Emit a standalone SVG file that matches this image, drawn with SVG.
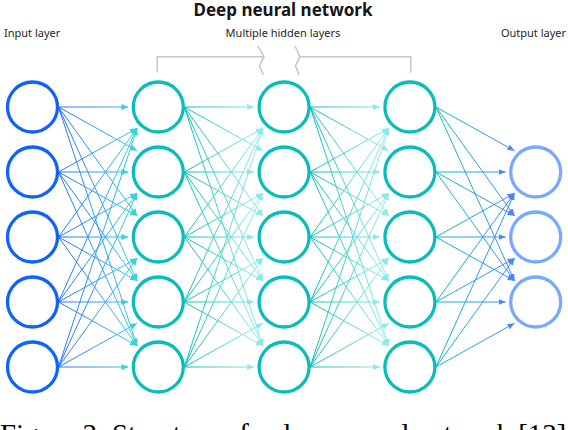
<svg xmlns="http://www.w3.org/2000/svg" width="568" height="430" viewBox="0 0 568 430">
<style>
.lbl{font-family:"Noto Sans","DejaVu Sans",sans-serif;font-size:11px;fill:#262626}
.title{font-family:"Noto Sans","DejaVu Sans",sans-serif;font-size:17px;font-weight:bold;fill:#161616}
.cap{font-family:"Liberation Serif","Times New Roman",serif;font-size:28.8px;fill:#000}
.in{fill:#fff;stroke:#0f62fe;stroke-width:3.3}
.hid{fill:#fff;stroke:#08bdba;stroke-width:3.3}
.out{fill:#fff;stroke:#78a9ff;stroke-width:3.3}
.brk{fill:none;stroke:#c6c6c6;stroke-width:1.5}
.c0 line{stroke:url(#g0);stroke-width:1;marker-end:url(#m0)}
.c1 line{stroke:url(#g1);stroke-width:1;marker-end:url(#m1)}
.c2 line{stroke:url(#g2);stroke-width:1;marker-end:url(#m1)}
.c3 line{stroke:url(#g3);stroke-width:1;marker-end:url(#m3)}
</style>
<defs>
<linearGradient id="g0" gradientUnits="userSpaceOnUse" x1="58.5" y1="0" x2="137" y2="0"><stop offset="0" stop-color="#2a6dff"/><stop offset="1" stop-color="#3ad3dc"/></linearGradient>
<linearGradient id="g1" gradientUnits="userSpaceOnUse" x1="184.3" y1="0" x2="263" y2="0"><stop offset="0" stop-color="#08bdba"/><stop offset="1" stop-color="#9ef0f0"/></linearGradient>
<linearGradient id="g2" gradientUnits="userSpaceOnUse" x1="310.1" y1="0" x2="389" y2="0"><stop offset="0" stop-color="#08bdba"/><stop offset="1" stop-color="#9ef0f0"/></linearGradient>
<linearGradient id="g3" gradientUnits="userSpaceOnUse" x1="435.9" y1="0" x2="515" y2="0"><stop offset="0" stop-color="#08bdba"/><stop offset="1" stop-color="#4589ff"/></linearGradient>
<marker id="m0" markerUnits="userSpaceOnUse" markerWidth="7" markerHeight="6" refX="7" refY="3" orient="auto"><path d="M0,0 L7,3 L0,6 z" fill="#3ad3dc"/></marker>
<marker id="m1" markerUnits="userSpaceOnUse" markerWidth="7" markerHeight="6" refX="7" refY="3" orient="auto"><path d="M0,0 L7,3 L0,6 z" fill="#8eeaea"/></marker>
<marker id="m3" markerUnits="userSpaceOnUse" markerWidth="7" markerHeight="6" refX="7" refY="3" orient="auto"><path d="M0,0 L7,3 L0,6 z" fill="#4589ff"/></marker>
</defs>

<text class="title" x="283" y="16" text-anchor="middle">Deep neural network</text>
<text class="lbl" x="4" y="37">Input layer</text>
<text class="lbl" x="283" y="37" text-anchor="middle">Multiple hidden layers</text>
<text class="lbl" x="566" y="37" text-anchor="end">Output layer</text>

<g id="bracket">
<path class="brk" d="M157.3,72.7 V56.7 H264"/>
<path class="brk" d="M257.7,46 L264,56.7 L259.5,66 L263.5,75"/>
<path class="brk" d="M295,46 L300,56.7 L295.5,66 L299,75"/>
<path class="brk" d="M300,56.7 H410.7 V72.7"/>
</g>

<g id="connectors">
<g class="c0">
<line x1="58.5" y1="107" x2="128.3" y2="107"/>
<line x1="58.5" y1="172" x2="137.1" y2="128.2"/>
<line x1="58.5" y1="237" x2="137.1" y2="128.2"/>
<line x1="58.5" y1="302" x2="137.1" y2="128.2"/>
<line x1="58.5" y1="367" x2="137.1" y2="128.2"/>
<line x1="58.5" y1="107" x2="137.1" y2="150.8"/>
<line x1="58.5" y1="172" x2="128.3" y2="172"/>
<line x1="58.5" y1="237" x2="137.1" y2="193.2"/>
<line x1="58.5" y1="302" x2="137.1" y2="193.2"/>
<line x1="58.5" y1="367" x2="137.1" y2="193.2"/>
<line x1="58.5" y1="107" x2="137.1" y2="215.8"/>
<line x1="58.5" y1="172" x2="137.1" y2="215.8"/>
<line x1="58.5" y1="237" x2="128.3" y2="237"/>
<line x1="58.5" y1="302" x2="137.1" y2="258.2"/>
<line x1="58.5" y1="367" x2="137.1" y2="258.2"/>
<line x1="58.5" y1="107" x2="137.1" y2="280.8"/>
<line x1="58.5" y1="172" x2="137.1" y2="280.8"/>
<line x1="58.5" y1="237" x2="137.1" y2="280.8"/>
<line x1="58.5" y1="302" x2="128.3" y2="302"/>
<line x1="58.5" y1="367" x2="137.1" y2="323.2"/>
<line x1="58.5" y1="107" x2="137.1" y2="345.8"/>
<line x1="58.5" y1="172" x2="137.1" y2="345.8"/>
<line x1="58.5" y1="237" x2="137.1" y2="345.8"/>
<line x1="58.5" y1="302" x2="137.1" y2="345.8"/>
<line x1="58.5" y1="367" x2="128.3" y2="367"/>
</g>
<g class="c1">
<line x1="184.3" y1="107" x2="254.1" y2="107"/>
<line x1="184.3" y1="172" x2="262.9" y2="128.2"/>
<line x1="184.3" y1="237" x2="262.9" y2="128.2"/>
<line x1="184.3" y1="302" x2="262.9" y2="128.2"/>
<line x1="184.3" y1="367" x2="262.9" y2="128.2"/>
<line x1="184.3" y1="107" x2="262.9" y2="150.8"/>
<line x1="184.3" y1="172" x2="254.1" y2="172"/>
<line x1="184.3" y1="237" x2="262.9" y2="193.2"/>
<line x1="184.3" y1="302" x2="262.9" y2="193.2"/>
<line x1="184.3" y1="367" x2="262.9" y2="193.2"/>
<line x1="184.3" y1="107" x2="262.9" y2="215.8"/>
<line x1="184.3" y1="172" x2="262.9" y2="215.8"/>
<line x1="184.3" y1="237" x2="254.1" y2="237"/>
<line x1="184.3" y1="302" x2="262.9" y2="258.2"/>
<line x1="184.3" y1="367" x2="262.9" y2="258.2"/>
<line x1="184.3" y1="107" x2="262.9" y2="280.8"/>
<line x1="184.3" y1="172" x2="262.9" y2="280.8"/>
<line x1="184.3" y1="237" x2="262.9" y2="280.8"/>
<line x1="184.3" y1="302" x2="254.1" y2="302"/>
<line x1="184.3" y1="367" x2="262.9" y2="323.2"/>
<line x1="184.3" y1="107" x2="262.9" y2="345.8"/>
<line x1="184.3" y1="172" x2="262.9" y2="345.8"/>
<line x1="184.3" y1="237" x2="262.9" y2="345.8"/>
<line x1="184.3" y1="302" x2="262.9" y2="345.8"/>
<line x1="184.3" y1="367" x2="254.1" y2="367"/>
</g>
<g class="c2">
<line x1="310.1" y1="107" x2="379.9" y2="107"/>
<line x1="310.1" y1="172" x2="388.7" y2="128.2"/>
<line x1="310.1" y1="237" x2="388.7" y2="128.2"/>
<line x1="310.1" y1="302" x2="388.7" y2="128.2"/>
<line x1="310.1" y1="367" x2="388.7" y2="128.2"/>
<line x1="310.1" y1="107" x2="388.7" y2="150.8"/>
<line x1="310.1" y1="172" x2="379.9" y2="172"/>
<line x1="310.1" y1="237" x2="388.7" y2="193.2"/>
<line x1="310.1" y1="302" x2="388.7" y2="193.2"/>
<line x1="310.1" y1="367" x2="388.7" y2="193.2"/>
<line x1="310.1" y1="107" x2="388.7" y2="215.8"/>
<line x1="310.1" y1="172" x2="388.7" y2="215.8"/>
<line x1="310.1" y1="237" x2="379.9" y2="237"/>
<line x1="310.1" y1="302" x2="388.7" y2="258.2"/>
<line x1="310.1" y1="367" x2="388.7" y2="258.2"/>
<line x1="310.1" y1="107" x2="388.7" y2="280.8"/>
<line x1="310.1" y1="172" x2="388.7" y2="280.8"/>
<line x1="310.1" y1="237" x2="388.7" y2="280.8"/>
<line x1="310.1" y1="302" x2="379.9" y2="302"/>
<line x1="310.1" y1="367" x2="388.7" y2="323.2"/>
<line x1="310.1" y1="107" x2="388.7" y2="345.8"/>
<line x1="310.1" y1="172" x2="388.7" y2="345.8"/>
<line x1="310.1" y1="237" x2="388.7" y2="345.8"/>
<line x1="310.1" y1="302" x2="388.7" y2="345.8"/>
<line x1="310.1" y1="367" x2="379.9" y2="367"/>
</g>
<g class="c3">
<line x1="435.9" y1="107" x2="514.5" y2="150.8"/>
<line x1="435.9" y1="172" x2="505.7" y2="172"/>
<line x1="435.9" y1="237" x2="514.5" y2="193.2"/>
<line x1="435.9" y1="302" x2="514.5" y2="193.2"/>
<line x1="435.9" y1="367" x2="514.5" y2="193.2"/>
<line x1="435.9" y1="107" x2="514.5" y2="215.8"/>
<line x1="435.9" y1="172" x2="514.5" y2="215.8"/>
<line x1="435.9" y1="237" x2="505.7" y2="237"/>
<line x1="435.9" y1="302" x2="514.5" y2="258.2"/>
<line x1="435.9" y1="367" x2="514.5" y2="258.2"/>
<line x1="435.9" y1="107" x2="514.5" y2="280.8"/>
<line x1="435.9" y1="172" x2="514.5" y2="280.8"/>
<line x1="435.9" y1="237" x2="514.5" y2="280.8"/>
<line x1="435.9" y1="302" x2="505.7" y2="302"/>
<line x1="435.9" y1="367" x2="514.5" y2="323.2"/>
</g>
</g>

<g id="input-layer">
<circle id="in1" class="in" cx="32.5" cy="107" r="25"/>
<circle id="in2" class="in" cx="32.5" cy="172" r="25"/>
<circle id="in3" class="in" cx="32.5" cy="237" r="25"/>
<circle id="in4" class="in" cx="32.5" cy="302" r="25"/>
<circle id="in5" class="in" cx="32.5" cy="367" r="25"/>
</g>
<g id="hidden-layer-1">
<circle id="h1n1" class="hid" cx="158.3" cy="107" r="25"/>
<circle id="h1n2" class="hid" cx="158.3" cy="172" r="25"/>
<circle id="h1n3" class="hid" cx="158.3" cy="237" r="25"/>
<circle id="h1n4" class="hid" cx="158.3" cy="302" r="25"/>
<circle id="h1n5" class="hid" cx="158.3" cy="367" r="25"/>
</g>
<g id="hidden-layer-2">
<circle id="h2n1" class="hid" cx="284.1" cy="107" r="25"/>
<circle id="h2n2" class="hid" cx="284.1" cy="172" r="25"/>
<circle id="h2n3" class="hid" cx="284.1" cy="237" r="25"/>
<circle id="h2n4" class="hid" cx="284.1" cy="302" r="25"/>
<circle id="h2n5" class="hid" cx="284.1" cy="367" r="25"/>
</g>
<g id="hidden-layer-3">
<circle id="h3n1" class="hid" cx="409.9" cy="107" r="25"/>
<circle id="h3n2" class="hid" cx="409.9" cy="172" r="25"/>
<circle id="h3n3" class="hid" cx="409.9" cy="237" r="25"/>
<circle id="h3n4" class="hid" cx="409.9" cy="302" r="25"/>
<circle id="h3n5" class="hid" cx="409.9" cy="367" r="25"/>
</g>
<g id="output-layer">
<circle id="out1" class="out" cx="535.7" cy="172" r="25"/>
<circle id="out2" class="out" cx="535.7" cy="237" r="25"/>
<circle id="out3" class="out" cx="535.7" cy="302" r="25"/>
</g>

<text class="cap" x="0" y="444">Figure 3: Structure of a deep neural network [13]</text>
</svg>
